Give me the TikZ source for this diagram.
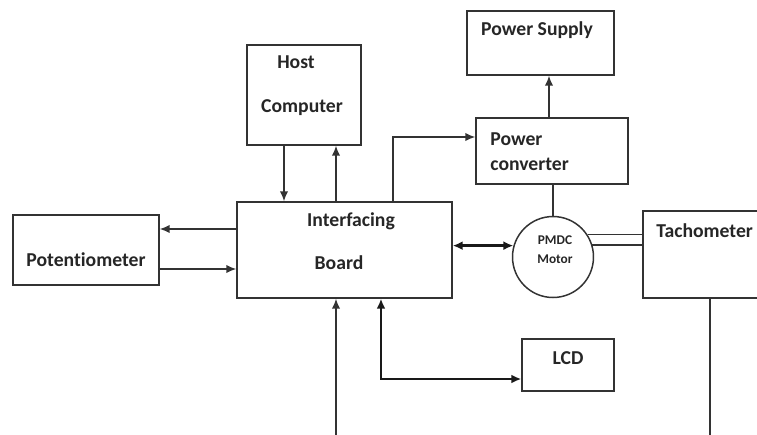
\documentclass[tikz,border=0pt]{standalone}
\usepackage{fontspec}
\setmainfont{Carlito}[Ligatures={NoCommon}]
\usetikzlibrary{arrows.meta,calc}
\tikzset{
  blockbox/.style={draw=black!80, line width=0.85pt, inner sep=0pt},
  motorbox/.style={draw=black!80, line width=0.85pt, circle, inner sep=0pt, minimum size=1.62cm},
  lbl/.style={font=\fontsize{11.2}{13}\selectfont\bfseries, text=black!85, inner sep=0pt},
  smalllbl/.style={font=\fontsize{7.6}{9}\selectfont\bfseries, text=black!85, inner sep=0pt},
  arr/.style={-{Latex[length=2mm,width=1.7mm]}, line width=0.85pt, draw=black!80},
  plain/.style={line width=0.85pt, draw=black!80},
  thickarr/.style={{Latex[length=2mm,width=1.8mm]}-{Latex[length=2mm,width=1.8mm]}, line width=1.5pt, draw=black!90},
}

\begin{document}
\begin{tikzpicture}[x=0.02cm,y=-0.02cm]
  \useasboundingbox (0,0) rectangle (757,434);
  \clip (0,0) rectangle (757,434);

  % blocks
  \node[blockbox, minimum width=2.94cm, minimum height=1.28cm] (PS)   at (540.5,43)  {};
  \node[blockbox, minimum width=2.28cm, minimum height=2.0cm]  (HC)   at (304,95)    {};
  \node[blockbox, minimum width=3.04cm, minimum height=1.32cm] (PC)   at (552,151)   {};
  \node[blockbox, minimum width=4.3cm,  minimum height=1.92cm] (IB)   at (344.5,250) {};
  \node[blockbox, minimum width=2.92cm, minimum height=1.4cm]  (POT)  at (86,250)    {};
  \node[motorbox]                                              (MOT)  at (553,257)   {};
  \node[blockbox, minimum width=2.94cm, minimum height=1.74cm] (TACH) at (716.5,254.5) {};
  \node[blockbox, minimum width=1.84cm, minimum height=1.04cm] (LCD)  at (568,365)   {};

  % texts
  \node[lbl] (tPS)   at (537,30)   {Power Supply};
  \node[lbl] (tHC1)  at (296,62)   {Host};
  \node[lbl] (tHC2)  at (302,108)  {Computer};
  \node[lbl, anchor=west] (tPC1) at (490,139) {Power};
  \node[lbl, anchor=west] (tPC2) at (490,164) {converter};
  \node[lbl] (tIB1)  at (351,221)  {Interfacing};
  \node[lbl] (tIB2)  at (339,263)  {Board};
  \node[lbl] (tPOT)  at (86,260)   {Potentiometer};
  \node[smalllbl] (tMOT1) at (555,240) {PMDC};
  \node[smalllbl] (tMOT2) at (555,259) {Motor};
  \node[lbl, anchor=west] (tTACH) at (656,231) {Tachometer};
  \node[lbl] (tLCD)  at (568,358)  {LCD};

  % free ends at the bottom
  \coordinate (fbIn)   at (336,445);
  \coordinate (fbTach) at (710,445);

  % connections
  \draw[arr] ([xshift=-0.4cm]HC.south) -- ([xshift=-0.4cm]HC.south |- IB.north);
  \draw[arr] ([xshift=0.64cm]HC.south |- IB.north) -- ([xshift=0.64cm]HC.south);
  \draw[arr] ([xshift=0.97cm]IB.north) |- ([yshift=0.28cm]PC.west);
  \draw[arr] ([xshift=-0.06cm]PC.north) -- ([xshift=-0.06cm]PC.north |- PS.south);
  \draw[plain] (MOT.north |- PC.south) -- (MOT.north);
  \draw[thickarr] (MOT.164 -| IB.east) -- (MOT.164);
  \draw[plain] (MOT.33) -- (MOT.33 -| TACH.west);
  \draw[plain] (MOT.17) -- (MOT.17 -| TACH.west);
  \draw[arr] ([yshift=0.42cm]IB.west) -- ([yshift=0.42cm]IB.west -| POT.east);
  \draw[arr] ([yshift=-0.38cm]IB.west -| POT.east) -- ([yshift=-0.38cm]IB.west);
  \draw[thickarr] ([xshift=0.73cm]IB.south) |- ([yshift=-0.28cm]LCD.west);
  \draw[arr] (fbIn) -- (fbIn |- IB.south);
  \draw[plain] (fbTach |- TACH.south) -- (fbTach);
\end{tikzpicture}
\end{document}
